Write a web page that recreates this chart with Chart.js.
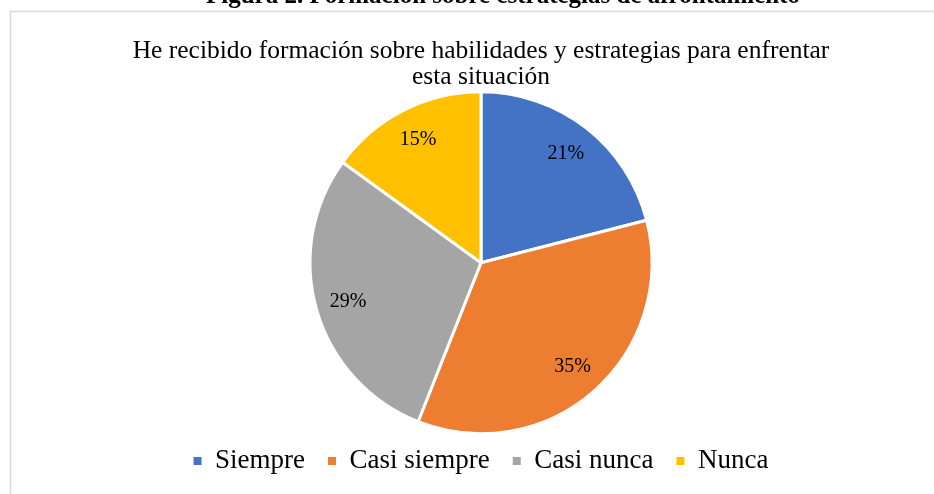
<!DOCTYPE html>
<html>
<head>
<meta charset="utf-8">
<script src="https://cdn.jsdelivr.net/npm/chart.js@4/dist/chart.umd.min.js"></script>
<style>
html,body{margin:0;padding:0;background:#fff;}
#wrap{width:934px;height:494px;position:relative;}
</style>
</head>
<body>
<div id="wrap"><canvas id="c" width="934" height="494"></canvas></div>
<script>
const categories = ["Siempre", "Casi siempre", "Casi nunca", "Nunca"];
const percentages = [21, 35, 29, 15];
const sliceColors = ["#4472C4", "#ED7D31", "#A5A5A5", "#FFC000"];
const chartTitle = ["He recibido formación sobre habilidades y estrategias para enfrentar", "esta situación"];
const figureCaption = "Figura 2. Formación sobre estrategias de afrontamiento";

const frameAndCaption = {
  id: 'frameAndCaption',
  beforeDraw(chart) {
    const ctx = chart.ctx;
    ctx.save();
    ctx.fillStyle = '#fff';
    ctx.fillRect(0, 0, chart.width, chart.height);
    ctx.strokeStyle = '#d9d9d9';
    ctx.lineWidth = 1.5;
    ctx.beginPath();
    ctx.moveTo(10.5, chart.height + 5);
    ctx.lineTo(10.5, 11.5);
    ctx.lineTo(chart.width + 5, 11.5);
    ctx.stroke();
    ctx.fillStyle = '#000';
    ctx.font = 'bold 25px "Liberation Serif"';
    ctx.textAlign = 'center';
    ctx.textBaseline = 'alphabetic';
    ctx.fillText(figureCaption, 503, 3);
    ctx.restore();
  }
};

const sliceLabels = {
  id: 'sliceLabels',
  afterDatasetsDraw(chart) {
    const ctx = chart.ctx;
    const meta = chart.getDatasetMeta(0);
    ctx.save();
    ctx.fillStyle = '#000';
    ctx.font = '20px "Liberation Serif"';
    ctx.textAlign = 'center';
    ctx.textBaseline = 'middle';
    meta.data.forEach((arc, i) => {
      const p = arc.getProps(['x', 'y', 'startAngle', 'endAngle', 'outerRadius'], true);
      const mid = (p.startAngle + p.endAngle) / 2;
      const r = p.outerRadius * 0.81;
      ctx.fillText(percentages[i] + '%', p.x + Math.cos(mid) * r, p.y + Math.sin(mid) * r);
    });
    ctx.restore();
  }
};

new Chart(document.getElementById('c'), {
  type: 'pie',
  data: {
    labels: categories,
    datasets: [{
      data: percentages,
      backgroundColor: sliceColors,
      borderColor: '#ffffff',
      borderWidth: 3,
      radius: 171
    }]
  },
  options: {
    responsive: false,
    animation: false,
    layout: { padding: { top: 38, bottom: 9.5, left: 28, right: 0 } },
    plugins: {
      title: {
        display: true,
        text: chartTitle,
        color: '#000',
        font: { family: 'Liberation Serif', size: 25.5, weight: 'normal', lineHeight: 1.02 },
        padding: { top: 0, bottom: 11 }
      },
      legend: {
        position: 'bottom',
        labels: {
          color: '#000',
          font: { family: 'Liberation Serif', size: 27 },
          boxWidth: 8,
          boxHeight: 8,
          padding: 23,
          generateLabels(chart) {
            const items = Chart.overrides.pie.plugins.legend.labels.generateLabels(chart);
            items.forEach(it => { it.lineWidth = 0; it.strokeStyle = it.fillStyle; });
            return items;
          }
        }
      },
      tooltip: { enabled: false }
    }
  },
  plugins: [frameAndCaption, sliceLabels]
});
</script>
</body>
</html>
